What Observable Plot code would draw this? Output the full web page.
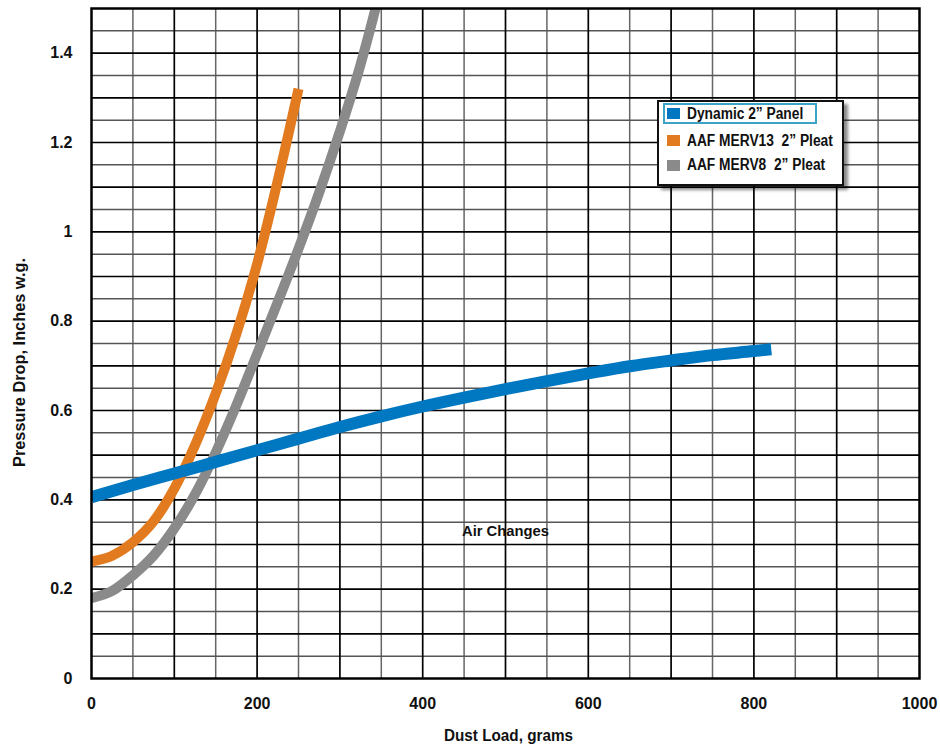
<!DOCTYPE html>
<html>
<head>
<meta charset="utf-8">
<script src="https://cdn.jsdelivr.net/npm/d3@7"></script>
<script src="https://cdn.jsdelivr.net/npm/@observablehq/plot@0.6"></script>
<style>
  body { margin: 0; background: #fff; }
  #wrap { position: relative; width: 940px; height: 745px; }
  .legend {
    position: absolute; left: 657px; top: 100px; width: 187px; height: 86px;
    box-sizing: border-box; border: 2px solid #111; background: #fff;
    box-shadow: 4px 4px 3px rgba(0,0,0,0.45);
    font-family: "Liberation Sans", Arial, sans-serif;
    font-weight: bold; font-size: 16px; color: #111;
  }
  .item { position: absolute; left: 4px; height: 21px; box-sizing: border-box;
    display: flex; align-items: center; white-space: pre; padding-left: 4px; }
  .item.sel { border: 2px solid #3aa3c6; padding-left: 2px; width: 154px; }
  .sw { width: 13px; height: 11px; margin-right: 7px; flex: none; }
  .tx { display: inline-block; transform: scaleX(0.86); transform-origin: left center; }
</style>
</head>
<body>
<div id="wrap"></div>
<script>
// ---- data ----
const seriesNames = ["Dynamic 2\u201D Panel", "AAF MERV13  2\u201D Pleat", "AAF MERV8  2\u201D Pleat"];
const seriesColors = ["#0077c1", "#e27b1f", "#8a8a8a"];

const dynamicX = [0, 50, 100, 150, 200, 250, 300, 350, 400, 450, 500, 550, 600, 650, 700, 750, 800, 821];
const dynamicY = [0.406, 0.433, 0.459, 0.485, 0.511, 0.537, 0.563, 0.587, 0.609, 0.629, 0.648, 0.666, 0.683, 0.699, 0.712, 0.724, 0.733, 0.737];

const merv13X = [0, 25, 50, 75, 100, 125, 150, 175, 200, 225, 250];
const merv13Y = [0.262, 0.275, 0.305, 0.352, 0.425, 0.522, 0.638, 0.772, 0.928, 1.115, 1.320];

const merv8X = [0, 25, 50, 75, 100, 125, 150, 175, 200, 225, 250, 275, 300, 325, 343, 350];
const merv8Y = [0.180, 0.196, 0.231, 0.275, 0.336, 0.412, 0.506, 0.612, 0.727, 0.843, 0.962, 1.088, 1.225, 1.375, 1.500, 1.552];

const xTicks = [0, 200, 400, 600, 800, 1000];
const yTicks = [0, 0.2, 0.4, 0.6, 0.8, 1, 1.2, 1.4];
const xGridMajor = [100, 200, 300, 400, 500, 600, 700, 800, 900];
const xGridMinor = [50, 150, 250, 350, 450, 550, 650, 750, 850, 950];
const yGridMajor = [0.1, 0.2, 0.3, 0.4, 0.5, 0.6, 0.7, 0.8, 0.9, 1.0, 1.1, 1.2, 1.3, 1.4];
const yGridMinor = [0.05, 0.15, 0.25, 0.35, 0.45, 0.55, 0.65, 0.75, 0.85, 0.95, 1.05, 1.15, 1.25, 1.35, 1.45];

const xTitle = "Dust Load, grams";
const yTitle = "Pressure Drop, Inches w.g.";
const annotation = [{x: 500, y: 0.33, text: "Air Changes"}];

const toRows = (xs, ys) => xs.map((x, i) => ({x, y: ys[i]}));
const dynamic = toRows(dynamicX, dynamicY);
const merv13 = toRows(merv13X, merv13Y);
const merv8 = toRows(merv8X, merv8Y);

const lineOpts = (color, w) => ({x: "x", y: "y", stroke: color, strokeWidth: w, curve: "monotone-x",
  strokeLinecap: "butt", strokeLinejoin: "round", clip: true});

const chart = Plot.plot({
  width: 940, height: 745,
  marginLeft: 91, marginRight: 21, marginTop: 8, marginBottom: 67,
  style: {fontFamily: "'Liberation Sans', Arial, sans-serif", fontSize: "16px", fontWeight: "bold", color: "#111", background: "#fff"},
  x: {domain: [0, 1000]},
  y: {domain: [0, 1.5]},
  marks: [
    Plot.ruleX(xGridMinor, {stroke: "#666", strokeWidth: 1.5}),
    Plot.ruleY(yGridMinor, {stroke: "#555", strokeWidth: 1.5}),
    Plot.ruleX(xGridMajor, {stroke: "#000", strokeWidth: 1.7}),
    Plot.ruleY(yGridMajor, {stroke: "#000", strokeWidth: 1.7}),
    Plot.line(merv8, lineOpts(seriesColors[2], 10)),
    Plot.line(merv13, lineOpts(seriesColors[1], 10)),
    Plot.line(dynamic, lineOpts(seriesColors[0], 12)),
    Plot.text(annotation, {x: "x", y: "y", text: "text", fontSize: 15.5, fontWeight: "bold", fill: "#111",
      className: "lab-air"}),
    Plot.frame({stroke: "#000", strokeWidth: 2.5}),
    Plot.axisX(xTicks, {tickSize: 0, tickPadding: 19, tickFormat: d => String(d), fontSize: 16, label: null}),
    Plot.axisY(yTicks, {tickSize: 0, tickPadding: 19, tickFormat: d => String(d), fontSize: 16, label: null}),
    Plot.text([xTitle], {frameAnchor: "bottom", textAnchor: "middle", lineAnchor: "middle", dx: 3, dy: 57,
      fontSize: 16, fontWeight: "bold", fill: "#111", className: "lab-x"}),
    Plot.text([yTitle], {frameAnchor: "left", textAnchor: "middle", lineAnchor: "middle", rotate: -90, dx: -72, dy: 19,
      fontSize: 16.5, fontWeight: "bold", fill: "#111", className: "lab-y"})
  ]
});

// condensed look of the original's title lettering
const fit = (cls, len) => d3.select(chart).selectAll(`.${cls} text`)
  .attr("textLength", len).attr("lengthAdjust", "spacingAndGlyphs");
fit("lab-x", 129);
fit("lab-y", 209);
fit("lab-air", 87);

const wrap = document.getElementById("wrap");
wrap.appendChild(chart);

// legend (inside plot area, as in the reference)
const legend = document.createElement("div");
legend.className = "legend";
const tops = [1, 28, 52.5];
seriesNames.forEach((name, i) => {
  const it = document.createElement("div");
  it.className = "item" + (i === 0 ? " sel" : "");
  it.style.top = tops[i] + "px";
  const sw = document.createElement("span");
  sw.className = "sw";
  sw.style.background = seriesColors[i];
  const tx = document.createElement("span");
  tx.className = "tx";
  tx.textContent = name;
  it.appendChild(sw); it.appendChild(tx);
  legend.appendChild(it);
});
wrap.appendChild(legend);
</script>
</body>
</html>
